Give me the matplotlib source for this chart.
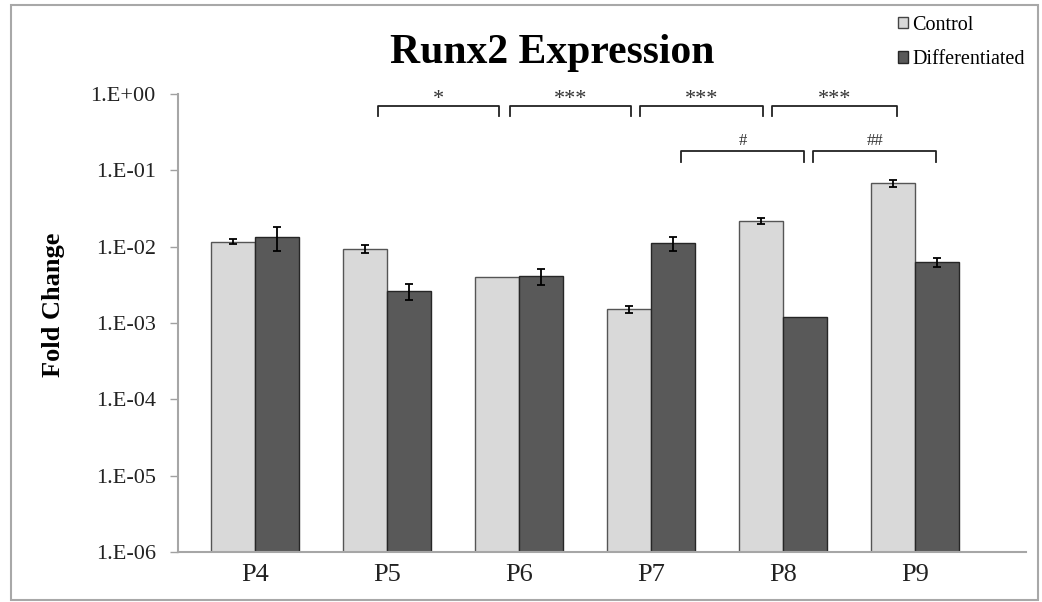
import numpy as np
import matplotlib
matplotlib.use("Agg")
import matplotlib.pyplot as plt
from matplotlib.patches import Patch, Rectangle

plt.rcParams['font.family'] = ['Liberation Serif', 'DejaVu Serif']

# Runx2 fold change per passage
passages = ['P4', 'P5', 'P6', 'P7', 'P8', 'P9']
control = [0.0116, 0.0094, 0.0040, 0.00152, 0.0217, 0.0676]
control_err = [0.0009, 0.0011, 0.0, 0.00015, 0.0018, 0.0070]
differentiated = [0.0135, 0.0026, 0.0041, 0.0111, 0.0012, 0.0062]
differentiated_err = [0.0047, 0.0006, 0.0010, 0.0022, 0.0, 0.0008]

ytick_values = [1e-6, 1e-5, 1e-4, 1e-3, 1e-2, 1e-1, 1e0]
ytick_labels = ['1.E-06', '1.E-05', '1.E-04', '1.E-03', '1.E-02', '1.E-01', '1.E+00']

# significance brackets: (start, end, row, label)
brackets = [
    (0.93, 1.85, 0, '*'),
    (1.93, 2.85, 0, '***'),
    (2.92, 3.85, 0, '***'),
    (3.92, 4.86, 0, '***'),
    (3.23, 4.16, 1, '#'),
    (4.23, 5.16, 1, '##'),
]

light = '#d9d9d9'
dark = '#595959'
bar_w = 1 / 3

fig = plt.figure(figsize=(10.42, 6.02), dpi=100)
ax = fig.add_axes([0.1708, 0.0831, 0.8138, 0.7608])

x = np.arange(len(passages))
ax.bar(x - bar_w / 2, control, bar_w, color=light, edgecolor='#555555', linewidth=1.0, zorder=2)
ax.bar(x + bar_w / 2, differentiated, bar_w, color=dark, edgecolor='#262626', linewidth=1.0, zorder=2)

for xs, vals, errs in [(x - bar_w / 2, control, control_err),
                       (x + bar_w / 2, differentiated, differentiated_err)]:
    for xi, v, e in zip(xs, vals, errs):
        if e > 0:
            ax.errorbar(xi, v, yerr=e, fmt='none', ecolor='black',
                        elinewidth=1.3, capsize=3, capthick=1.3, zorder=3)

ax.set_yscale('log')
ax.set_ylim(1e-6, 1)
ax.set_xlim(-0.583, 5.84)
ax.set_yticks(ytick_values)
ax.set_yticklabels(ytick_labels)
ax.yaxis.set_minor_locator(matplotlib.ticker.NullLocator())
ax.set_xticks(x)
ax.set_xticklabels(passages)

ax.tick_params(axis='y', length=6, width=1, color='#a0a0a0', labelsize=16, pad=10, labelcolor='#222222')
ax.tick_params(axis='x', length=0, labelsize=19, pad=9, labelcolor='#222222')
for side in ['top', 'right']:
    ax.spines[side].set_visible(False)
for side in ['left', 'bottom']:
    ax.spines[side].set_color('#a6a6a6')
    ax.spines[side].set_linewidth(1.5)

ax.set_ylabel('Fold Change', fontsize=19, fontweight='bold')
ax.yaxis.set_label_coords(-0.133, 0.54)

# brackets above the bars
row_line = [0.696, 0.179]
row_tick = [0.515, 0.128]
row_text = [0.74, 0.215]
for x0, x1, row, label in brackets:
    yl, yt = row_line[row], row_tick[row]
    ax.plot([x0, x0, x1, x1], [yt, yl, yl, yt], color='#222222', lw=1.3,
            clip_on=False, zorder=4)
    ax.text((x0 + x1) / 2, row_text[row], label, ha='center', va='baseline',
            fontsize=16 if row == 0 else 12, color='#333333')

fig.text(0.53, 0.895, 'Runx2 Expression', ha='center', va='baseline',
         fontsize=30, fontweight='bold')

handles = [Patch(facecolor=light, edgecolor='#444444', linewidth=1.0),
           Patch(facecolor=dark, edgecolor='#262626', linewidth=1.0)]
fig.legend(handles, ['Control', 'Differentiated'], loc='upper right',
           bbox_to_anchor=(0.997, 0.997), frameon=False, fontsize=14.5,
           handlelength=0.5, handleheight=0.5, handletextpad=0.2,
           labelspacing=0.75, borderaxespad=0.3)

# outer frame
fig.patches.append(Rectangle((0.0105, 0.003), 0.9855, 0.988, transform=fig.transFigure,
                             fill=False, edgecolor='#a8a8a8', linewidth=1.5))

fig.savefig('out.png', dpi=100)
